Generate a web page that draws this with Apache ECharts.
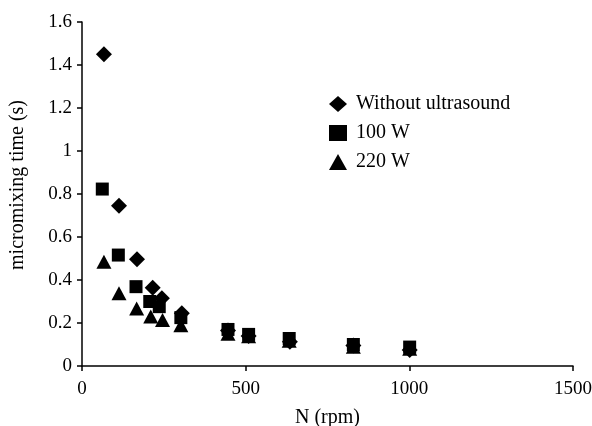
<!DOCTYPE html>
<html>
<head>
<meta charset="utf-8">
<script src="https://cdn.jsdelivr.net/npm/echarts@6/dist/echarts.min.js"></script>
<style>html,body{margin:0;padding:0;background:#fff}#c{width:592px;height:426px}</style>
</head>
<body>
<div id="c"></div>
<script>
var seriesNames = ['Without ultrasound', '100 W', '220 W'];
var withoutUltrasound = [[67,1.45],[113,0.745],[168,0.496],[216,0.364],[244,0.315],[305,0.245],[446,0.165],[509,0.14],[635,0.113],[829,0.095],[1001,0.075]];
var w100 = [[62,0.823],[111,0.516],[165,0.369],[207,0.30],[236,0.276],[302,0.225],[446,0.17],[509,0.147],[633,0.128],[829,0.10],[1001,0.088]];
var w220 = [[67,0.485],[113,0.338],[167,0.268],[210,0.23],[246,0.214],[302,0.19],[446,0.15],[509,0.138],[633,0.117],[829,0.09],[1001,0.08]];
var xTicks = [0, 500, 1000, 1500];
var yTicks = [0, 0.2, 0.4, 0.6, 0.8, 1, 1.2, 1.4, 1.6];

var font = 'Liberation Serif, Times New Roman, serif';
var chart = echarts.init(document.getElementById('c'), null, {renderer: 'canvas'});
var axisCommon = {
  axisLine: {show: true, lineStyle: {color: '#000', width: 1.5}},
  axisTick: {show: true, inside: false, length: 5, lineStyle: {color: '#000', width: 1.5}},
  splitLine: {show: false},
  nameTextStyle: {color: '#000', fontFamily: font, fontSize: 20}
};
function fmt(v) { return String(v); }
chart.setOption({
  animation: false,
  backgroundColor: '#fff',
  grid: {left: 82, right: 19, top: 22, bottom: 60, containLabel: false, outerBoundsMode: 'none'},
  legend: {
    orient: 'vertical', left: 324, top: 89, itemGap: 9, itemWidth: 18, itemHeight: 16,
    textStyle: {color: '#000', fontFamily: font, fontSize: 20, padding: [0, 0, 0, 4]},
    data: [
      {name: seriesNames[0], icon: 'diamond'},
      {name: seriesNames[1], icon: 'rect'},
      {name: seriesNames[2], icon: 'triangle'}
    ]
  },
  xAxis: Object.assign({}, axisCommon, {
    type: 'value', min: xTicks[0], max: xTicks[xTicks.length - 1], interval: 500,
    name: 'N (rpm)', nameLocation: 'middle', nameGap: 42,
    axisLabel: {color: '#000', fontFamily: font, fontSize: 19, margin: 14, formatter: fmt}
  }),
  yAxis: Object.assign({}, axisCommon, {
    type: 'value', min: yTicks[0], max: yTicks[yTicks.length - 1], interval: 0.2,
    name: 'micromixing time (s)', nameLocation: 'middle', nameGap: 54, nameRotate: 90,
    nameTextStyle: {color: '#000', fontFamily: font, fontSize: 20, padding: [0, 0, 0, 18]},
    axisLabel: {color: '#000', fontFamily: font, fontSize: 19, margin: 10, formatter: fmt}
  }),
  series: [
    {name: seriesNames[0], type: 'scatter', symbol: 'diamond', symbolSize: 16, data: withoutUltrasound, itemStyle: {color: '#000', opacity: 1}},
    {name: seriesNames[1], type: 'scatter', symbol: 'rect', symbolSize: 13, data: w100, itemStyle: {color: '#000', opacity: 1}},
    {name: seriesNames[2], type: 'scatter', symbol: 'triangle', symbolSize: [15, 14], data: w220, itemStyle: {color: '#000', opacity: 1}}
  ]
});
</script>
</body>
</html>
